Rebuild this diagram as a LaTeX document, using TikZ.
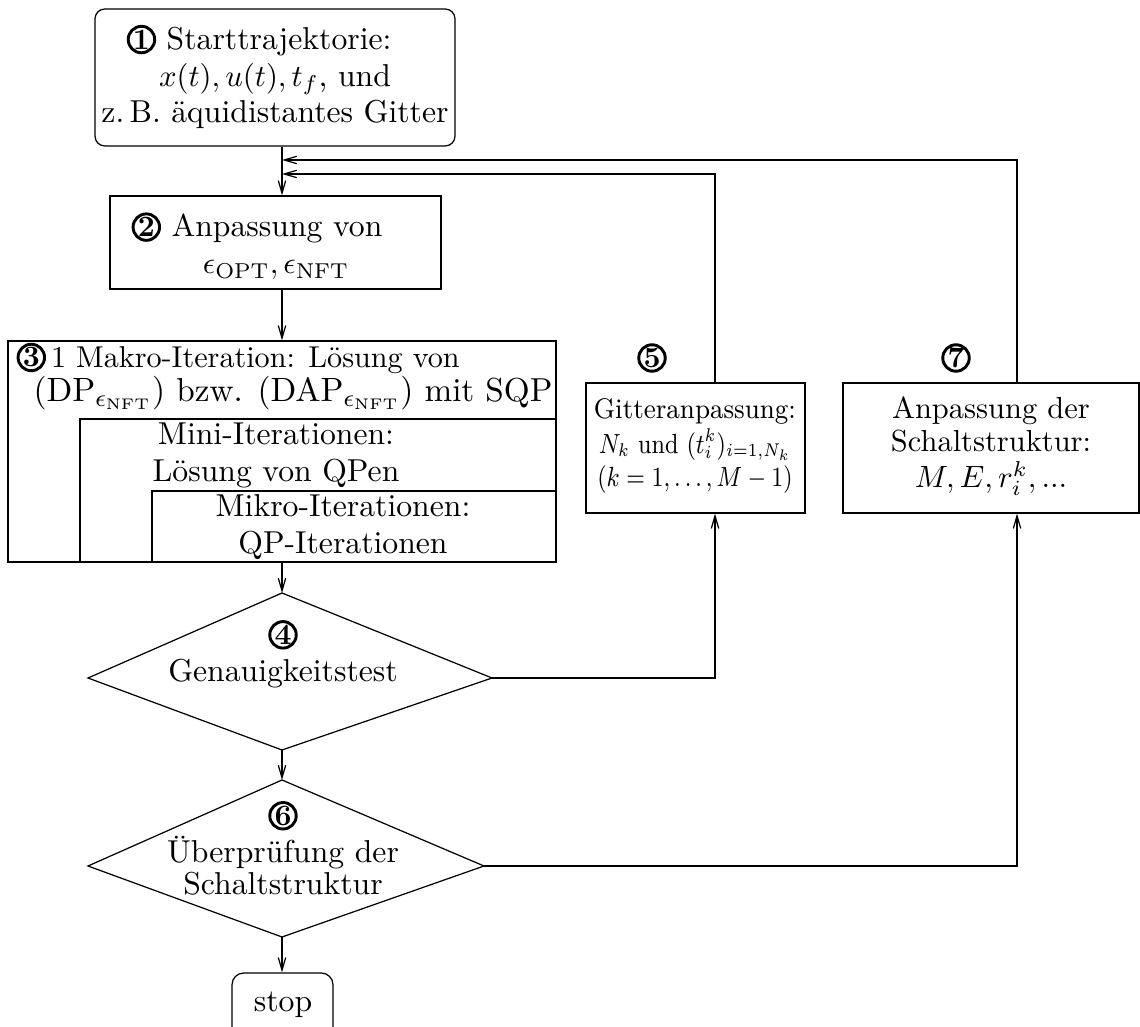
\documentclass[tikz,border=0pt]{standalone}
\usetikzlibrary{arrows.meta,fit}
\newcommand{\cnum}[1]{\tikz[baseline={(0pt,-3.1pt)}]{\draw[line width=0.95pt] (0pt,0pt) circle (4.3pt); \node[anchor=center,inner sep=0pt,font=\fontsize{9.6}{10}\selectfont\bfseries] at (0pt,0pt) {#1};}}
\begin{document}
\begin{tikzpicture}[x=0.325pt,y=-0.325pt, line width=0.4pt,
  arr/.style={-{Straight Barb[length=4.1pt,width=2.4pt]}},
  box/.style={draw, inner sep=0pt},
  rbox/.style={draw, inner sep=0pt, rounded corners=3.2pt},
  txt/.style={align=center, inner sep=0pt, font=\fontsize{10.3}{12}\selectfont},
  stxt/.style={align=center, inner sep=0pt}]
\useasboundingbox (0,0) rectangle (1140,1027);

% boxes
\node[rbox, fit={(95,9) (455,146)}] (b1) {};
\node[box, fit={(110,196) (441,289)}] (b2) {};
\node[box, fit={(8,341) (556,562)}] (b3) {};
\node[box, fit={(586,383) (805,513)}] (b5) {};
\node[box, fit={(843,383) (1139,513)}] (b7) {};
\node[rbox, rounded corners=3.8pt, fit={(232,973) (333,1050)}] (stop) {};

% inner partitions of box 3
\coordinate (m1) at (80,419);
\coordinate (m2) at (152,491);
\draw (b3.south -| m1) -- (m1) -- (m1 -| b3.east);
\draw (b3.south -| m2) -- (m2) -- (m2 -| b3.east);

% diamonds
\coordinate (d4t) at (282,593);
\coordinate (d4r) at (492,678);
\coordinate (d4b) at (282,750);
\coordinate (d4l) at (88,678);
\draw (d4t) -- (d4r) -- (d4b) -- (d4l) -- cycle;
\coordinate (d6t) at (282,780);
\coordinate (d6r) at (484,866);
\coordinate (d6b) at (282,937);
\coordinate (d6l) at (88,866);
\draw (d6t) -- (d6r) -- (d6b) -- (d6l) -- cycle;

% texts
\node[txt] (t1) at (275,77) {\cnum{1} Starttrajektorie:\hspace*{1em}\\ $x(t), u(t), t_f$, und\\ z.\,B. äquidistantes Gitter};
\node[txt] (t2) at (276,246) {\cnum{2} Anpassung von\hspace*{1.2em}\\ $\epsilon_{\mathrm{OPT}}, \epsilon_{\mathrm{NFT}}$};
\node[txt, anchor=west, font=\fontsize{9.8}{12}\selectfont] (t3) at (16,358) {\cnum{3}\,1 Makro-Iteration: Lösung von};
\node[txt, font=\fontsize{10.8}{12}\selectfont] (t3l) at (293,393) {$(\mathrm{DP}_{\epsilon_{\mathrm{NFT}}})$ bzw. $(\mathrm{DAP}_{\epsilon_{\mathrm{NFT}}})$ mit SQP};
\node[txt] (t3a) at (276,455) {Mini-Iterationen:\\ Lösung von QPen};
\node[txt] (t3b) at (343,527) {Mikro-Iterationen:\\ QP-Iterationen};
\node[txt] (t4) at (283,654) {\cnum{4}\\ Genauigkeitstest};
\node[txt] (t6) at (283,848) {\cnum{6}\\ Überprüfung der\\[-1.6pt] Schaltstruktur};
\node[stxt, font=\fontsize{9.2}{10.7}\selectfont] (t5) at (695,446) {\scalebox{0.93}[1]{Gitteranpassung:}\\[0.6pt]
  \scalebox{0.85}[1]{\fontsize{9.0}{10}\selectfont $N_k$ und $(t_i^k)_{i=1,N_k}$}\\
  \scalebox{0.84}[1]{\fontsize{8.6}{10}\selectfont $(k=1,\ldots,M-1)$}};
\node[stxt, font=\fontsize{9.9}{10.9}\selectfont] (t7) at (991,446) {Anpassung der\\ Schaltstruktur:\\[0.6pt] $M, E, r_i^k, ...$};
\node[txt] (l5) at (652,358) {\cnum{5}};
\node[txt] (l7) at (956,358) {\cnum{7}};
\node[txt] (ts) at (283,1005) {stop};

% connectors
\coordinate (j7) at (282,160);
\coordinate (j5) at (282,174);
\coordinate (c7) at (1017,160);
\coordinate (c5) at (715,174);
\draw[arr] (b1.south -| j7) -- (b2.north -| j7);
\draw[arr] (b2.south -| j7) -- (b3.north -| j7);
\draw[arr] (b3.south -| d4t) -- (d4t);
\draw[arr] (d4b) -- (d6t);
\draw[arr] (d6b) -- (stop.north -| d6b);
\draw[arr] (d4r) -| (b5.south -| c5);
\draw[arr] (d6r) -| (b7.south -| c7);
\draw[arr] (b5.north -| c5) -- (c5) -- (j5);
\draw[arr] (b7.north -| c7) -- (c7) -- (j7);
\end{tikzpicture}
\end{document}
